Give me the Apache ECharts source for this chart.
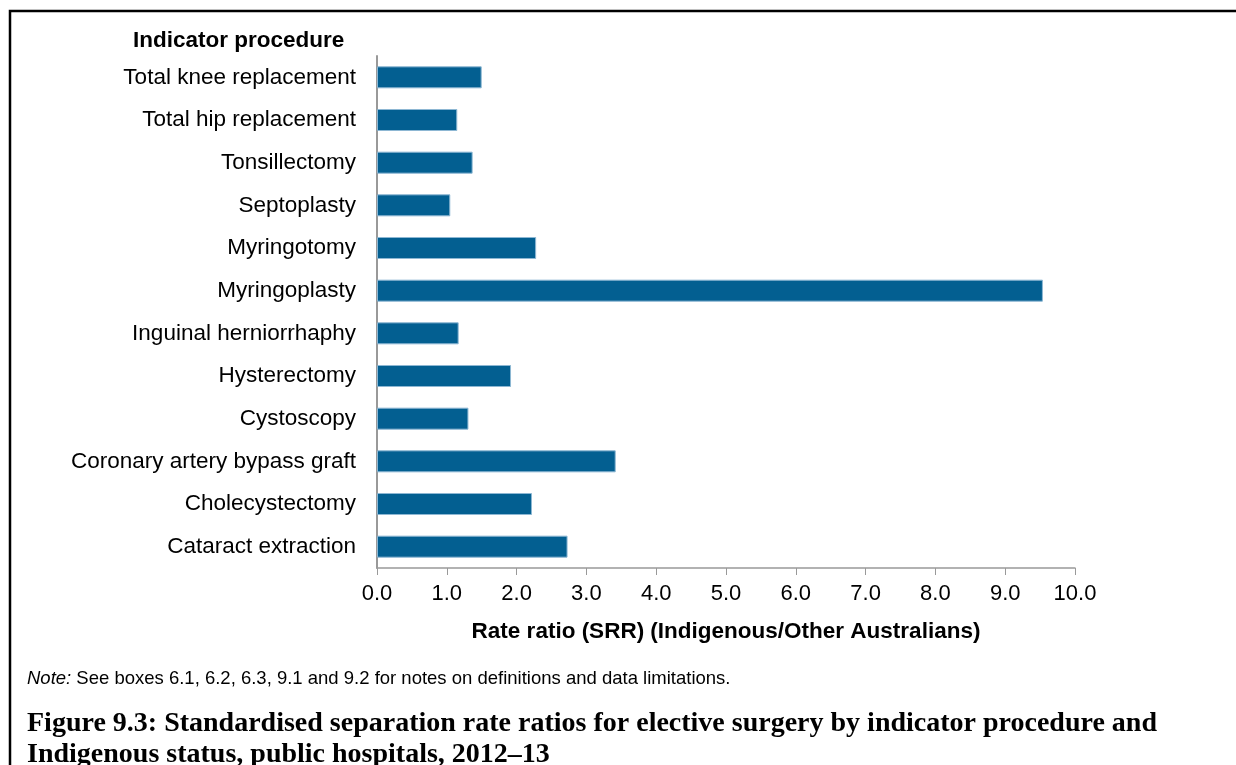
<!DOCTYPE html>
<html>
<head>
<meta charset="utf-8">
<script src="https://cdn.jsdelivr.net/npm/echarts@6/dist/echarts.min.js"></script>
<style>
	html, body { margin: 0; padding: 0; background: #fff; }
	#chart { width: 1236px; height: 765px; }
</style>
</head>
<body>
<div id="chart"></div>
<script>
// Indicator procedures, top to bottom
const procedures = [
	'Total knee replacement',
	'Total hip replacement',
	'Tonsillectomy',
	'Septoplasty',
	'Myringotomy',
	'Myringoplasty',
	'Inguinal herniorrhaphy',
	'Hysterectomy',
	'Cystoscopy',
	'Coronary artery bypass graft',
	'Cholecystectomy',
	'Cataract extraction'
]

// SRR values (Indigenous / Other Australians)
const rateRatios = [1.50, 1.15, 1.37, 1.05, 2.28, 9.54, 1.17, 1.92, 1.31, 3.42, 2.22, 2.73]

const xTicks = { min: 0, max: 10, interval: 1 }

const chart = echarts.init(document.getElementById('chart'))

const option = {
	animation: false,
	backgroundColor: '#fff',
	title: [
		{
			text: 'Indicator procedure',
			left: 133,
			top: 29,
			padding: 0,
			textStyle: { fontFamily: 'Liberation Sans', fontSize: 22.5, fontWeight: 'bold', color: '#000' }
		},
		{
			text: '{i|Note:} See boxes 6.1, 6.2, 6.3, 9.1 and 9.2 for notes on definitions and data limitations.',
			left: 27,
			top: 669,
			padding: 0,
			textStyle: {
				fontFamily: 'Liberation Sans', fontSize: 18.5, fontWeight: 'normal', color: '#000',
				rich: { i: { fontFamily: 'Liberation Sans', fontSize: 18.5, fontStyle: 'italic', color: '#000' } }
			}
		},
		{
			text: 'Figure 9.3: Standardised separation rate ratios for elective surgery by indicator procedure and\nIndigenous status, public hospitals, 2012\u201313',
			left: 27,
			top: 708,
			padding: 0,
			textStyle: { fontFamily: 'Liberation Serif', fontSize: 28, fontWeight: 'bold', color: '#000', lineHeight: 31 }
		}
	],
	grid: {
		left: 377,
		right: 161,
		top: 56,
		bottom: 197,
		containLabel: false
	},
	xAxis: {
		type: 'value',
		min: xTicks.min,
		max: xTicks.max,
		interval: xTicks.interval,
		name: 'Rate ratio (SRR) (Indigenous/Other Australians)',
		nameLocation: 'middle',
		nameGap: 52,
		nameTextStyle: { fontFamily: 'Liberation Sans', fontSize: 22.5, fontWeight: 'bold', color: '#000' },
		axisLine: { show: true, lineStyle: { color: '#999', width: 1.5 } },
		axisTick: { show: true, length: 7, lineStyle: { color: '#999' } },
		axisLabel: {
			fontFamily: 'Liberation Sans', fontSize: 22, color: '#000', margin: 15,
			formatter: v => v.toFixed(1)
		},
		splitLine: { show: false }
	},
	yAxis: {
		type: 'category',
		inverse: true,
		data: procedures,
		axisLine: { show: true, lineStyle: { color: '#999', width: 2 } },
		axisTick: { show: false },
		axisLabel: { fontFamily: 'Liberation Sans', fontSize: 22.5, color: '#000', margin: 21 }
	},
	series: [{
		type: 'bar',
		data: rateRatios,
		barWidth: 22,
		itemStyle: { color: '#035F91', borderColor: '#8DB7D3', borderWidth: 1 }
	}],
	graphic: [
		{
			type: 'polyline',
			shape: { points: [[10, 765], [10, 11], [1236, 11]] },
			style: { stroke: '#000', lineWidth: 2.5, fill: null }
		}
	]
}

chart.setOption(option)
</script>
</body>
</html>
